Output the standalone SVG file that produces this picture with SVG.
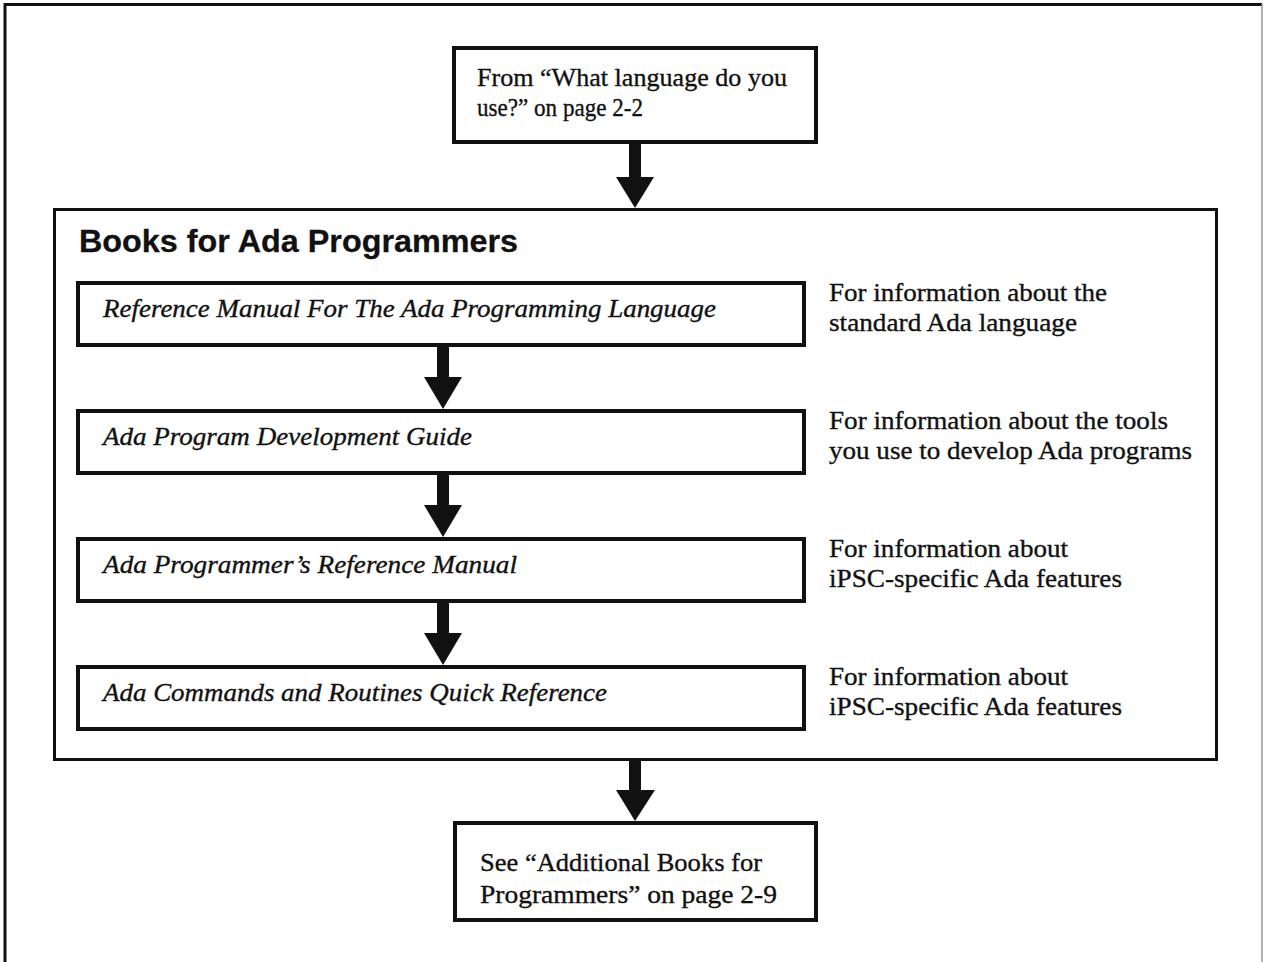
<svg xmlns="http://www.w3.org/2000/svg" width="1264" height="962" viewBox="0 0 1264 962">
<style>
.bg{fill:#fff}
.frame{fill:none;stroke:#111;stroke-width:3}
.box{fill:#fff;stroke:#111;stroke-width:4}
.big{fill:#fff;stroke:#111;stroke-width:3}
.t{font-family:"Liberation Serif","Times New Roman",serif;font-size:26px;fill:#111;stroke:#111;stroke-width:0.35}
.ti{font-family:"Liberation Serif","Times New Roman",serif;font-size:26px;font-style:italic;fill:#111;stroke:#111;stroke-width:0.35}
.h{font-family:"Liberation Sans",Arial,sans-serif;font-size:31px;font-weight:bold;fill:#111;stroke:#111;stroke-width:0.3}
.arr{fill:#111}
</style>
<rect class="bg" x="0" y="0" width="1264" height="962"/>
<g id="frame">
<path class="frame" d="M5,962 V4.5 H1262"/>
<line x1="1262" y1="4" x2="1262" y2="962" stroke="#999" stroke-width="1.5"/>
</g>
<g id="start">
<rect class="box" x="454" y="48" width="362" height="94"/>
<text class="t" x="477" y="86" textLength="310" lengthAdjust="spacingAndGlyphs">From “What language do you</text>
<text class="t" x="477" y="116" textLength="166" lengthAdjust="spacingAndGlyphs">use?” on page 2-2</text>
</g>
<g id="books">
<rect class="big" x="54.5" y="209.5" width="1162" height="550"/>
<text class="h" x="79" y="252" textLength="439" lengthAdjust="spacingAndGlyphs">Books for Ada Programmers</text>
</g>
<g id="book1">
<rect class="box" x="78" y="283" width="726" height="62"/>
<text class="ti" x="103" y="317" textLength="613" lengthAdjust="spacingAndGlyphs">Reference Manual For The Ada Programming Language</text>
<text class="t" x="829" y="301" textLength="278" lengthAdjust="spacingAndGlyphs">For information about the</text>
<text class="t" x="829" y="331" textLength="248" lengthAdjust="spacingAndGlyphs">standard Ada language</text>
</g>
<g id="book2">
<rect class="box" x="78" y="411" width="726" height="62"/>
<text class="ti" x="103" y="445" textLength="369" lengthAdjust="spacingAndGlyphs">Ada Program Development Guide</text>
<text class="t" x="829" y="429" textLength="339" lengthAdjust="spacingAndGlyphs">For information about the tools</text>
<text class="t" x="829" y="459" textLength="363" lengthAdjust="spacingAndGlyphs">you use to develop Ada programs</text>
</g>
<g id="book3">
<rect class="box" x="78" y="539" width="726" height="62"/>
<text class="ti" x="103" y="573" textLength="414" lengthAdjust="spacingAndGlyphs">Ada Programmer’s Reference Manual</text>
<text class="t" x="829" y="557" textLength="239" lengthAdjust="spacingAndGlyphs">For information about</text>
<text class="t" x="829" y="587" textLength="293" lengthAdjust="spacingAndGlyphs">iPSC-specific Ada features</text>
</g>
<g id="book4">
<rect class="box" x="78" y="667" width="726" height="62"/>
<text class="ti" x="103" y="701" textLength="504" lengthAdjust="spacingAndGlyphs">Ada Commands and Routines Quick Reference</text>
<text class="t" x="829" y="685" textLength="239" lengthAdjust="spacingAndGlyphs">For information about</text>
<text class="t" x="829" y="715" textLength="293" lengthAdjust="spacingAndGlyphs">iPSC-specific Ada features</text>
</g>
<g id="end">
<rect class="box" x="455" y="823" width="361" height="97"/>
<text class="t" x="480" y="871" textLength="282" lengthAdjust="spacingAndGlyphs">See “Additional Books for</text>
<text class="t" x="480" y="903" textLength="297" lengthAdjust="spacingAndGlyphs">Programmers” on page 2-9</text>
</g>
<g id="connectors">
<path class="arr" d="M629,142 H641 V177 H654 L635,208 L616,177 H629 Z"/>
<path class="arr" d="M437,345 H449 V377 H462 L443,409 L424,377 H437 Z"/>
<path class="arr" d="M437,473 H449 V505 H462 L443,537 L424,505 H437 Z"/>
<path class="arr" d="M437,601 H449 V633 H462 L443,665 L424,633 H437 Z"/>
<path class="arr" d="M629,760 H641 V790 H655 L635,821 L616,790 H629 Z"/>
</g>
</svg>
